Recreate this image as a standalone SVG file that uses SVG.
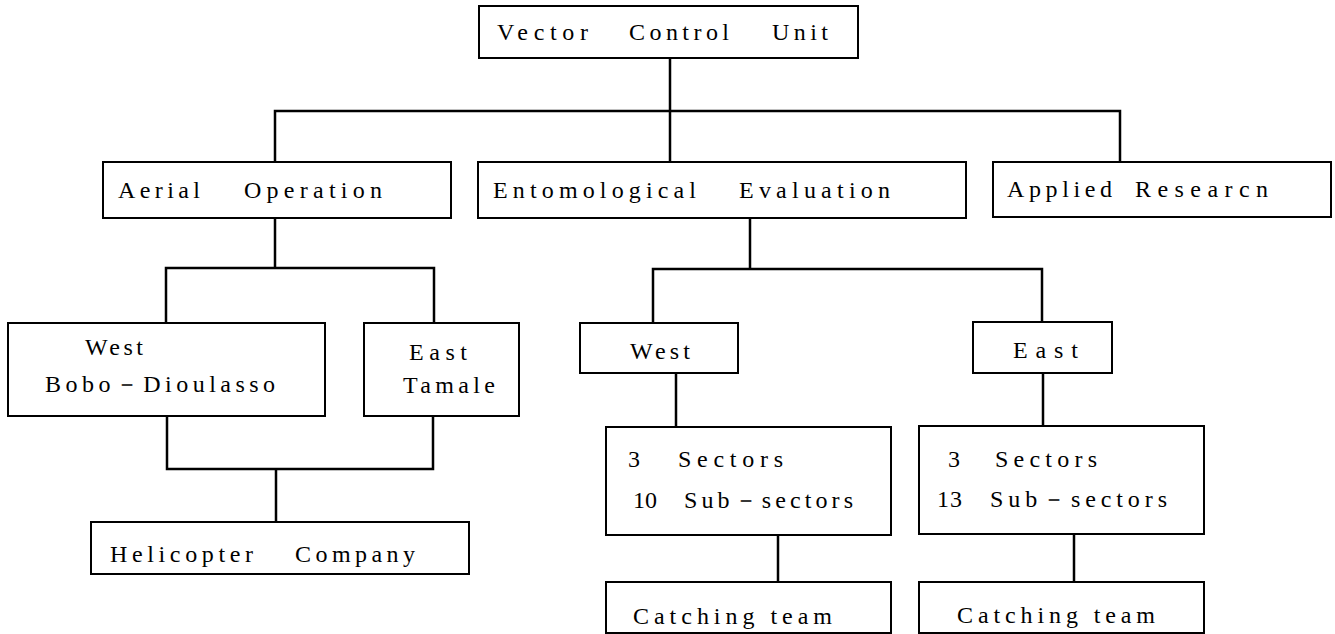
<svg xmlns="http://www.w3.org/2000/svg" width="1335" height="634" viewBox="0 0 1335 634">
<style>
.box{fill:#fff;stroke:#000;stroke-width:2}
.conn{fill:none;stroke:#000;stroke-width:2.5}
text{font-family:"Liberation Serif","Times New Roman",serif;font-size:24px;fill:#000}
</style>
<rect width="1335" height="634" fill="#fff"/>
<g id="connectors">
<path class="conn" d="M670 58 V162 M275 162 V111 H1120 V162"/>
<path class="conn" d="M275 218 V268 M166 323 V268 H434 V323"/>
<path class="conn" d="M167 416 V469 H433 V416 M276 469 V522"/>
<path class="conn" d="M750 218 V269 M653 323 V269 H1042 V322"/>
<path class="conn" d="M676 373 V427 M1043 373 V426"/>
<path class="conn" d="M778 535 V582 M1074 534 V582"/>
</g>
<g id="vcu">
<rect class="box" x="479" y="6" width="379" height="52"/>
<text x="497" y="40" textLength="91" lengthAdjust="spacing">Vector</text>
<text x="629" y="40" textLength="100" lengthAdjust="spacing">Control</text>
<text x="772" y="40" textLength="56" lengthAdjust="spacing">Unit</text>
</g>
<g id="aerial">
<rect class="box" x="103" y="162" width="348" height="56"/>
<text x="118" y="198" textLength="82" lengthAdjust="spacing">Aerial</text>
<text x="244" y="198" textLength="138" lengthAdjust="spacing">Operation</text>
</g>
<g id="ento">
<rect class="box" x="478" y="162" width="488" height="56"/>
<text x="493" y="198" textLength="203" lengthAdjust="spacing">Entomological</text>
<text x="739" y="198" textLength="151" lengthAdjust="spacing">Evaluation</text>
</g>
<g id="applied">
<rect class="box" x="993" y="162" width="338" height="55"/>
<text x="1007" y="197" textLength="105" lengthAdjust="spacing">Applied</text>
<text x="1135" y="197" textLength="133" lengthAdjust="spacing">Researcn</text>
</g>
<g id="west-bobo">
<rect class="box" x="8" y="323" width="317" height="93"/>
<text x="85" y="355" textLength="58" lengthAdjust="spacing">West</text>
<text x="45" y="392" textLength="230" lengthAdjust="spacing">Bobo－Dioulasso</text>
</g>
<g id="east-tamale">
<rect class="box" x="364" y="323" width="155" height="93"/>
<text x="409" y="360" textLength="58" lengthAdjust="spacing">East</text>
<text x="403" y="393" textLength="92" lengthAdjust="spacing">Tamale</text>
</g>
<g id="heli">
<rect class="box" x="91" y="522" width="378" height="52"/>
<text x="110" y="562" textLength="143" lengthAdjust="spacing">Helicopter</text>
<text x="295" y="562" textLength="120" lengthAdjust="spacing">Company</text>
</g>
<g id="west-ento">
<rect class="box" x="580" y="323" width="158" height="50"/>
<text x="630" y="359" textLength="60" lengthAdjust="spacing">West</text>
</g>
<g id="east-ento">
<rect class="box" x="973" y="322" width="139" height="51"/>
<text x="1013" y="358" textLength="65" lengthAdjust="spacing">East</text>
</g>
<g id="sectors-west">
<rect class="box" x="606" y="427" width="285" height="108"/>
<text x="628" y="467">3</text>
<text x="678" y="467" textLength="105" lengthAdjust="spacing">Sectors</text>
<text x="633" y="508" textLength="24" lengthAdjust="spacing">10</text>
<text x="684" y="508" textLength="169" lengthAdjust="spacing">Sub－sectors</text>
</g>
<g id="sectors-east">
<rect class="box" x="919" y="426" width="285" height="108"/>
<text x="948" y="467">3</text>
<text x="995" y="467" textLength="102" lengthAdjust="spacing">Sectors</text>
<text x="937" y="507" textLength="25" lengthAdjust="spacing">13</text>
<text x="990" y="507" textLength="177" lengthAdjust="spacing">Sub－sectors</text>
</g>
<g id="catch-west">
<rect class="box" x="606" y="582" width="285" height="51"/>
<text x="633" y="624" textLength="199" lengthAdjust="spacing">Catching team</text>
</g>
<g id="catch-east">
<rect class="box" x="919" y="582" width="285" height="51"/>
<text x="957" y="623" textLength="198" lengthAdjust="spacing">Catching team</text>
</g>
</svg>
